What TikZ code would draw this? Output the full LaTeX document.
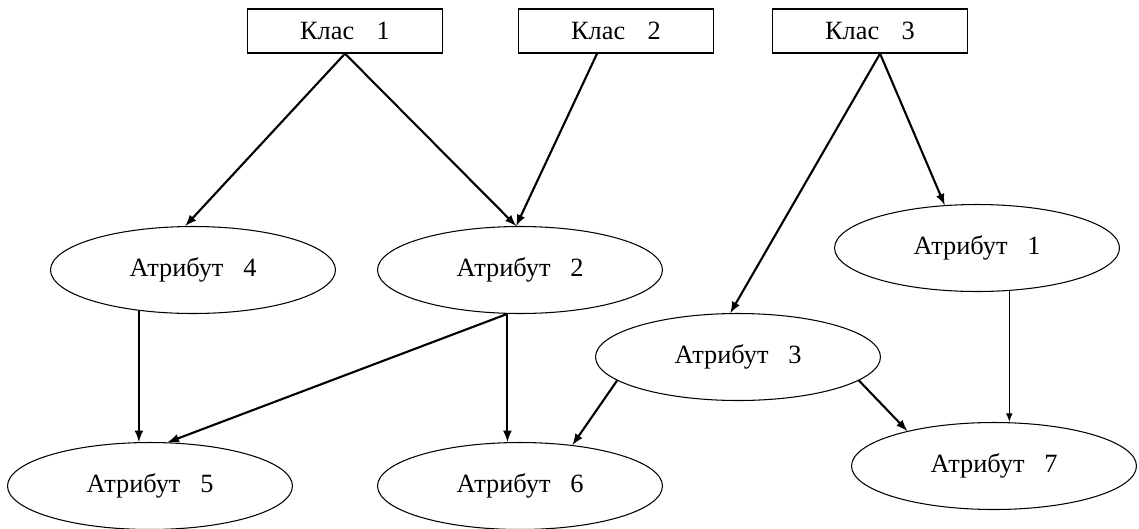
\documentclass[tikz,border=0pt]{standalone}
\usepackage{fontspec}
\setmainfont{Liberation Serif}
\usetikzlibrary{shapes.geometric}

\begin{document}
\begin{tikzpicture}[x=0.02cm, y=-0.02cm,
  klas/.style={draw, line width=0.7pt, minimum width=3.9cm, minimum height=0.88cm, font=\fontsize{15}{18}\selectfont},
  attr/.style={draw, ellipse, line width=0.6pt, minimum width=5.7cm, minimum height=1.74cm, font=\fontsize{15}{18}\selectfont},
  link/.style={-latex, line width=1.2pt}]
  \useasboundingbox (0,0) rectangle (1139,528);
  % classes
  \node[klas] (k1) at (345, 31) {Клас\hspace{0.85em}1};
  \node[klas] (k2) at (616, 31) {Клас\hspace{0.85em}2};
  \node[klas] (k3) at (870, 31) {Клас\hspace{0.85em}3};
  % attributes
  \node[attr] (a4) at (193, 270) {Атрибут\hspace{0.75em}4};
  \node[attr] (a2) at (520, 270) {Атрибут\hspace{0.75em}2};
  \node[attr] (a1) at (977, 248) {Атрибут\hspace{0.75em}1};
  \node[attr] (a3) at (738, 357) {Атрибут\hspace{0.75em}3};
  \node[attr] (a5) at (150, 486) {Атрибут\hspace{0.75em}5};
  \node[attr] (a6) at (520, 486) {Атрибут\hspace{0.75em}6};
  \node[attr] (a7) at (994, 466) {Атрибут\hspace{0.75em}7};
  % links
  \draw[link] (k1.south) -- (a4.100);
  \draw[link] (k1.south) -- (a2.95);
  \draw[link] (k2.230) -- (a2.95);
  \draw[link] (k3.294) -- (a3.100);
  \draw[link] (k3.294) -- (a1.127);
  \draw[link] (a4.217) -- (a4.217 |- a5.north);
  \draw[link] (a2.254) -- (a5.68);
  \draw[link] (a2.254) -- (a2.254 |- a6.north);
  \draw[link] (a3.191) -- (a6.38);
  \draw[link] (a3.-11) -- (a7.158);
  \draw[link, line width=0.7pt] (a1.-53) -- (a1.-53 |- a7.north);
\end{tikzpicture}
\end{document}
